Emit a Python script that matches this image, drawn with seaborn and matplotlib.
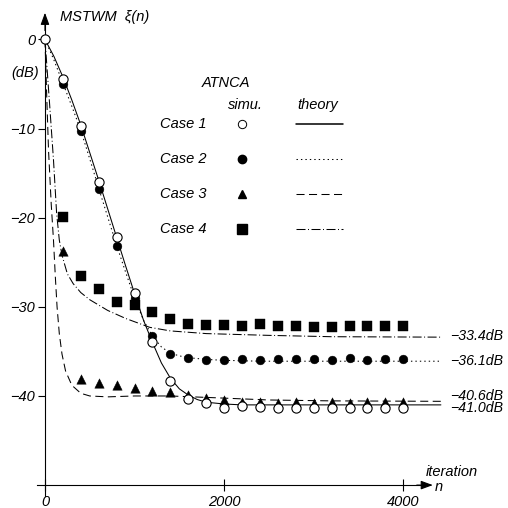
import numpy as np
import pandas as pd
import matplotlib.pyplot as plt
import seaborn as sns

# ATNCA simulation points, MSTWM xi(n) in dB
sim_n = [200, 400, 600, 800, 1000, 1200, 1400, 1600, 1800, 2000,
         2200, 2400, 2600, 2800, 3000, 3200, 3400, 3600, 3800, 4000]
case1_sim_n = [0] + sim_n
case1_sim = [0, -4.4, -9.7, -16.0, -22.2, -28.5, -34.0, -38.3, -40.3, -40.8, -41.3,
             -41.1, -41.2, -41.3, -41.4, -41.3, -41.3, -41.4, -41.4, -41.4, -41.4]
case2_sim = [-5.0, -10.3, -16.8, -23.2, -29.0, -33.3, -35.3, -35.7, -36.0, -36.0,
             -35.8, -36.0, -35.9, -35.8, -35.9, -36.0, -35.7, -36.0, -35.8, -35.8]
case3_sim = [-23.7, -38.1, -38.5, -38.8, -39.1, -39.4, -39.5, -39.9, -40.2, -40.5,
             -40.7, -40.7, -40.8, -40.7, -40.8, -40.7, -40.8, -40.7, -40.7, -40.7]
case4_sim = [-19.9, -26.5, -28.0, -29.5, -29.8, -30.6, -31.4, -31.9, -32.0, -32.0,
             -32.1, -31.9, -32.1, -32.1, -32.3, -32.3, -32.2, -32.1, -32.2, -32.1]

# theory curves
th1_n = [0, 100, 200, 300, 400, 500, 600, 700, 800, 900, 1000, 1100, 1200,
         1300, 1400, 1500, 1600, 1700, 1800, 2000, 2200, 2600, 3000, 4420]
th1 = [0, -1.9, -4.2, -6.8, -9.6, -12.7, -15.8, -19.0, -22.2, -25.4, -28.5, -31.5, -34.0,
       -36.3, -38.0, -39.2, -39.9, -40.4, -40.7, -40.9, -41.0, -41.0, -41.0, -41.0]
th2_n = [0, 100, 200, 300, 400, 500, 600, 700, 800, 900, 1000, 1100, 1200,
         1300, 1400, 1500, 1600, 1800, 2000, 2400, 3000, 4420]
th2 = [0, -2.3, -4.9, -7.5, -10.2, -13.4, -16.7, -19.9, -23.1, -26.1, -29.0, -31.5, -33.3,
       -34.5, -35.2, -35.5, -35.7, -35.9, -36.0, -36.1, -36.1, -36.1]
th3_n = [0, 20, 40, 70, 95, 115, 135, 160, 190, 230, 300, 400, 500, 700,
         1000, 1400, 1900, 2500, 3200, 4420]
th3 = [0, -6.5, -12.5, -18.5, -22.5, -26.5, -30.0, -33.0, -35.3, -37.2, -38.8, -39.7, -40.0, -40.1,
       -40.0, -40.0, -40.2, -40.45, -40.55, -40.6]
th4_n = [0, 50, 95, 130, 160, 190, 250, 315, 400, 500, 700, 900, 1170,
         1400, 1800, 2500, 3200, 4420]
th4 = [0, -7.0, -13.5, -19.5, -22.5, -24.2, -26.3, -27.4, -28.4, -29.2, -30.4, -31.3, -32.3,
       -32.7, -33.0, -33.2, -33.35, -33.4]

cases = ["Case 1", "Case 2", "Case 3", "Case 4"]
steady = [-41.0, -36.1, -40.6, -33.4]
x_ticks = [0, 2000, 4000]
y_ticks = [0, -10, -20, -30, -40]

sns.set_theme(style="ticks", rc={"axes.edgecolor": "black", "xtick.color": "black",
                                 "ytick.color": "black", "text.color": "black"})
plt.rcParams["font.family"] = ["Liberation Sans", "DejaVu Sans"]
plt.rcParams["font.style"] = "italic"
plt.rcParams["font.size"] = 10.5
plt.rcParams["lines.scale_dashes"] = False

fig = plt.figure(figsize=(5.08, 5.08), dpi=100)
ax = fig.add_axes([0, 0, 1, 1])

styles = ["-", (0, (1.0, 2.2)), (0, (5.8, 3.2)), (0, (6.5, 1.8, 0.7, 1.8))]
theory_n = [th1_n, th2_n, th3_n, th4_n]
theory = [th1, th2, th3, th4]
for ns, vals, ls in zip(theory_n, theory, styles):
    sns.lineplot(x=ns, y=vals, ax=ax, color="black", lw=0.75, linestyle=ls,
                 estimator=None, sort=False, legend=False, zorder=2)

# markers
sns.scatterplot(x=sim_n, y=case4_sim, ax=ax, marker="s", s=52, color="black",
                edgecolor="black", linewidth=0.3, zorder=3)
sns.scatterplot(x=sim_n, y=case3_sim, ax=ax, marker="^", s=46, color="black",
                edgecolor="black", linewidth=0.3, zorder=3)
sns.scatterplot(x=sim_n, y=case2_sim, ax=ax, marker="o", s=40, color="black",
                edgecolor="black", linewidth=0.3, zorder=4)
sns.scatterplot(x=case1_sim_n, y=case1_sim, ax=ax, marker="o", s=44, color="white",
                edgecolor="black", linewidth=0.8, zorder=5)

ax.set_xlim(-502, 5169)
ax.set_ylim(-52.57, 4.43)

# axes through the origin with arrow heads
ax.spines[["top", "right"]].set_visible(False)
ax.spines["left"].set_position(("data", 0))
ax.spines["bottom"].set_position(("data", -50))
ax.spines["left"].set_bounds(-51.2, 2.0)
ax.spines["bottom"].set_bounds(-89, 4250)
for sp in ("left", "bottom"):
    ax.spines[sp].set_linewidth(0.8)
arrow = dict(arrowstyle="-|>,head_length=0.6,head_width=0.22", color="black",
             lw=0.8, mutation_scale=12, shrinkA=0, shrinkB=0)
ax.annotate("", xy=(4330, -50), xytext=(4150, -50), arrowprops=arrow)
ax.annotate("", xy=(0, 3.0), xytext=(0, 1.0), arrowprops=arrow)

ax.set_xticks(x_ticks)
ax.set_xticklabels([str(v) for v in x_ticks])
ax.set_yticks(y_ticks)
ax.set_yticklabels([str(v).replace("-", "\u2212") for v in y_ticks])
ax.tick_params(axis="x", direction="inout", length=8, width=0.8, pad=3, labelsize=10.5)
ax.tick_params(axis="y", direction="out", length=5, width=0.8, pad=2, labelsize=10.5)
ax.set_xlabel("")
ax.set_ylabel("")


def at(px, py):
    return px / 508, 1 - py / 508


tr = ax.transAxes
ax.text(*at(60, 17), "MSTWM  \u03be(n)", transform=tr, ha="left", va="center")
ax.text(*at(25, 73), "(dB)", transform=tr, ha="center", va="center")
ax.text(*at(452, 472), "iteration", transform=tr, ha="center", va="center")
ax.text(*at(435, 487), "n", transform=tr, ha="left", va="center")

# legend
ax.text(*at(226, 83), "ATNCA", transform=tr, ha="center", va="center")
ax.text(*at(245, 105), "simu.", transform=tr, ha="center", va="center")
ax.text(*at(318, 105), "theory", transform=tr, ha="center", va="center")
keys = [dict(marker="o", ms=6, mfc="white", mec="black", mew=0.7),
        dict(marker="o", ms=6, mfc="black", mec="black"),
        dict(marker="^", ms=6, mfc="black", mec="black"),
        dict(marker="s", ms=6.5, mfc="black", mec="black")]
for i, (name, key, ls) in enumerate(zip(cases, keys, styles)):
    row = 124 + 35 * i
    ax.text(*at(160, row), name, transform=tr, ha="left", va="center")
    ax.plot(*at(242, row), transform=tr, ls="none", **key)
    x0, y0 = at(296, row)
    x1, _ = at(343, row)
    ax.plot([x0, x1], [y0, y0], transform=tr, color="black",
            lw=1.1 if i == 0 else 0.75, linestyle=ls)

# steady-state values
offsets = [-0.4, 0.0, 0.65, 0.15]
for v, off in zip(steady, offsets):
    ax.text(4520, v + off, f"\u2212{abs(v):.1f}dB", ha="left", va="center",
            fontsize=10.2)

fig.savefig("out.png", dpi=100)
